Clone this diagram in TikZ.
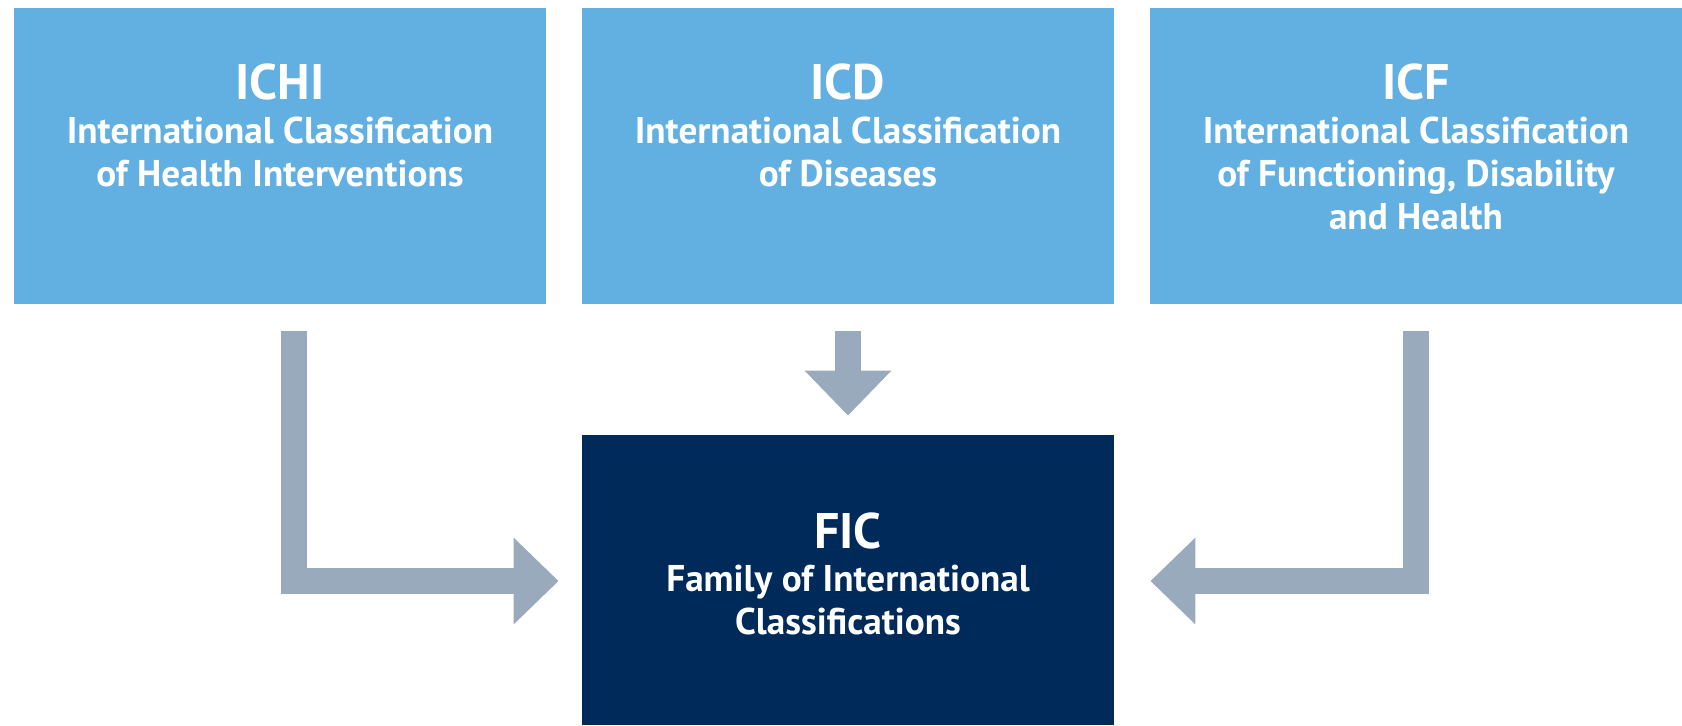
\documentclass[tikz,border=0pt]{standalone}
\usepackage{fontspec}
\setmainfont{PT Sans}
\usetikzlibrary{arrows.meta,calc}
\definecolor{boxblue}{HTML}{62B0E1}
\definecolor{navy}{HTML}{002A5A}
\definecolor{arrowgray}{HTML}{99AABD}
\tikzset{
  classbox/.style={rectangle, inner sep=0pt, minimum width=266pt, minimum height=148pt, fill=boxblue},
  ficbox/.style={rectangle, inner sep=0pt, minimum width=266pt, minimum height=145pt, fill=navy},
  titletext/.style={anchor=base, inner sep=0pt, text=white, font=\fontsize{25pt}{29pt}\selectfont\bfseries},
  subtext/.style={anchor=base, inner sep=0pt, text=white, font=\fontsize{18.6pt}{22pt}\selectfont\bfseries},
  blockarrow/.style={draw=arrowgray, line width=13pt, line join=miter, line cap=butt,
    -{Triangle[length=22.5pt, width=42pt]}}
}
\begin{document}
\begin{tikzpicture}[x=0.5pt,y=-0.5pt]
\useasboundingbox (0,0) rectangle (1682,725);
% boxes
\node[classbox] (ichi) at (280,156) {};
\node[classbox] (icd) at (848,156) {};
\node[classbox] (icf) at (1416,156) {};
\node[ficbox] (fic) at (848,580) {};
% texts
\node[titletext] (ichiT) at (280,99) {ICHI};
\node[subtext] (ichi1) at (280,143) {International Classification};
\node[subtext] (ichi2) at (280,186) {of Health Interventions};
\node[titletext] (icdT) at (848,99) {ICD};
\node[subtext] (icd1) at (848,143) {International Classification};
\node[subtext] (icd2) at (848,186) {of Diseases};
\node[titletext] (icfT) at (1416,99) {ICF};
\node[subtext] (icf1) at (1416,143) {International Classification};
\node[subtext] (icf2) at (1416,186) {of Functioning, Disability};
\node[subtext] (icf3) at (1416,229) {and Health};
\node[titletext] (ficT) at (848,548) {FIC};
\node[subtext] (fic1) at (848,591) {Family of International};
\node[subtext] (fic2) at (848,634) {Classifications};
% arrows
\coordinate (lstart) at ($(ichi.south)+(14,27)$);
\coordinate (lend) at ($(fic.west)+(-23,1)$);
\draw[blockarrow] (lstart) |- (lend);
\coordinate (rstart) at ($(icf.south)+(0,27)$);
\coordinate (rend) at ($(fic.east)+(36,1)$);
\draw[blockarrow] (rstart) |- (rend);
\coordinate (cstart) at ($(icd.south)+(0,27)$);
\coordinate (cend) at ($(fic.north)+(0,-19)$);
\draw[blockarrow] (cstart) -- (cend);
\end{tikzpicture}
\end{document}
